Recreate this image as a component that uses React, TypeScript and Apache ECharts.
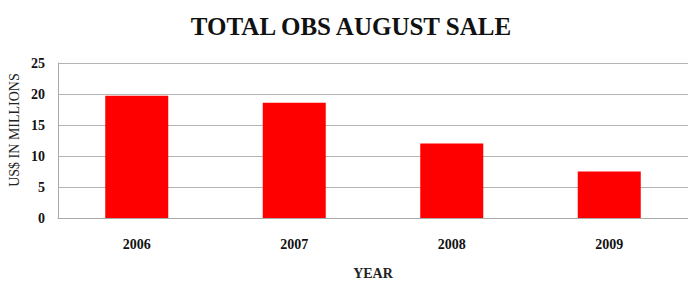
import React, { useEffect, useRef } from "react";
import * as echarts from "echarts";

const categories = ["2006", "2007", "2008", "2009"];
const sales = [19.7, 18.6, 12.0, 7.5];
const yTicks = { min: 0, max: 25, interval: 5 };
const titleText = "TOTAL OBS AUGUST SALE";
const xName = "YEAR";
const yName = "US$ IN MILLIONS";

export default function App() {
  const ref = useRef<HTMLDivElement>(null);
  useEffect(() => {
    if (!ref.current) return;
    const chart = echarts.init(ref.current, null, { renderer: "svg" });
    const serif = "'Liberation Serif', 'Times New Roman', serif";
    chart.setOption({
      animation: false,
      backgroundColor: "#ffffff",
      title: {
        text: titleText,
        left: 346,
        textAlign: "center",
        top: 9,
        textStyle: { fontFamily: serif, fontSize: 25, fontWeight: "bold", color: "#111" },
      },
      graphic: [
        {
          type: "text",
          x: 14,
          y: 130,
          rotation: Math.PI / 2,
          style: {
            text: yName,
            fontFamily: serif,
            fontSize: 14,
            fill: "#222",
            textAlign: "center",
            textVerticalAlign: "middle",
            verticalAlign: "middle",
          },
        },
      ],
      grid: { left: 58, right: 0, top: 63, bottom: 71 },
      xAxis: {
        type: "category",
        data: categories,
        name: xName,
        nameLocation: "middle",
        nameGap: 48,
        nameTextStyle: { fontFamily: serif, fontSize: 14, fontWeight: "bold", color: "#222" },
        axisLine: { show: true, lineStyle: { color: "#aaaaaa" } },
        axisTick: { show: false },
        axisLabel: { fontFamily: serif, fontSize: 14, fontWeight: "bold", color: "#111", margin: 19 },
      },
      yAxis: {
        type: "value",
        min: yTicks.min,
        max: yTicks.max,
        interval: yTicks.interval,
        axisLine: { show: true, lineStyle: { color: "#aaaaaa" } },
        axisTick: { show: false },
        splitLine: { lineStyle: { color: "#b4b4b4", width: 1 } },
        axisLabel: { fontFamily: serif, fontSize: 14, fontWeight: "bold", color: "#111", margin: 13 },
      },
      series: [
        {
          type: "bar",
          data: sales,
          barWidth: "40%",
          itemStyle: { color: "#ff0000" },
        },
      ],
    });
    return () => chart.dispose();
  }, []);
  return <div ref={ref} style={{ width: 688, height: 289, position: "absolute", left: 0, top: 0 }} />;
}
